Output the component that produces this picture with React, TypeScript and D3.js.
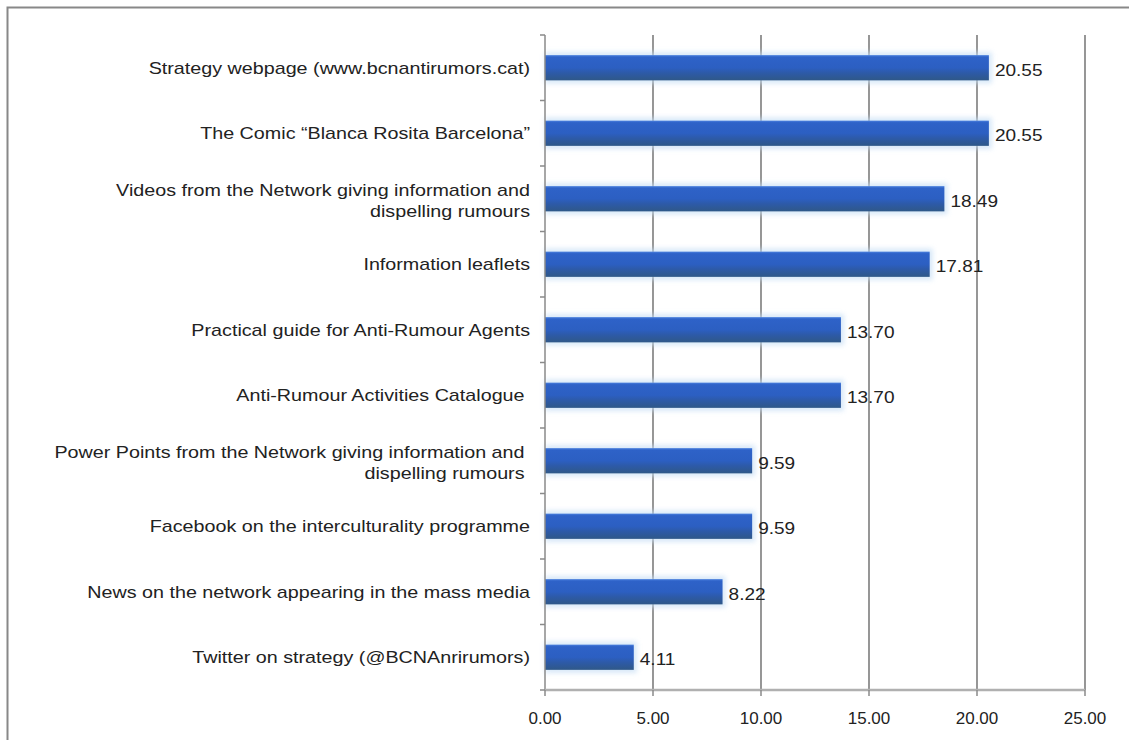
import React from "react";
import * as d3 from "d3";

const categories: string[][] = [
  ["Strategy webpage (www.bcnantirumors.cat)"],
  ["The Comic \u201cBlanca Rosita Barcelona\u201d"],
  ["Videos from the Network giving information and", "dispelling rumours"],
  ["Information leaflets"],
  ["Practical guide for Anti-Rumour Agents"],
  ["Anti-Rumour Activities Catalogue "],
  ["Power Points from the Network giving information and ", "dispelling rumours "],
  ["Facebook on the interculturality programme"],
  ["News on the network appearing in the mass media"],
  ["Twitter on strategy (@BCNAnrirumors)"],
];
const values: number[] = [20.55, 20.55, 18.49, 17.81, 13.7, 13.7, 9.59, 9.59, 8.22, 4.11];
const xTicks: number[] = [0, 5, 10, 15, 20, 25];

const W = 1129;
const H = 740;
const left = 545;
const right = 1085;
const top = 35;
const bottom = 690;
const FONT = "'Liberation Sans', Arial, sans-serif";

export default function App() {
  const x = d3.scaleLinear().domain([0, 25]).range([left, right]);
  const idx = categories.map((_, i) => String(i));
  const y = d3.scaleBand().domain(idx).range([top, bottom]).paddingInner(0.615).paddingOuter(0.3075);
  const step = y.step();
  const bw = y.bandwidth();

  return (
    <svg width={W} height={H} style={{ position: "absolute", left: 0, top: 0, background: "#fff" }}>
      <defs>
        <linearGradient id="barGrad" x1="0" y1="0" x2="0" y2="1">
          <stop offset="0" stopColor="#4a80de" />
          <stop offset="0.08" stopColor="#2e62c8" />
          <stop offset="0.5" stopColor="#2c5fc2" />
          <stop offset="0.7" stopColor="#2d5aa8" />
          <stop offset="1" stopColor="#2f5888" />
        </linearGradient>
        <filter id="glow" x="-10%" y="-50%" width="120%" height="200%">
          <feGaussianBlur stdDeviation="2.5" />
        </filter>
      </defs>
      <rect x={7.5} y={7.5} width={W + 10} height={H + 10} fill="#fff" stroke="#888" strokeWidth={2} />

      {/* gridlines */}
      {xTicks.slice(1).map((t) => (
        <line key={t} x1={x(t)} x2={x(t)} y1={top} y2={bottom} stroke="#6a6a6a" strokeWidth={1.4} />
      ))}

      {/* bars */}
      {values.map((v, i) => {
        const yy = y(String(i))!;
        return (
          <g key={i}>
            <rect x={x(0)} y={yy - 3} width={x(v) - x(0) + 3} height={bw + 6} fill="#c6def5" opacity={0.7} filter="url(#glow)" />
            <rect x={x(0)} y={yy} width={x(v) - x(0)} height={bw} fill="url(#barGrad)" />
          </g>
        );
      })}

      {/* left axis */}
      <line x1={left} x2={left} y1={top} y2={bottom} stroke="#8a8a8a" strokeWidth={1.5} />
      {d3.range(categories.length + 1).map((i) => (
        <line key={i} x1={left - 5} x2={left} y1={top + i * step} y2={top + i * step} stroke="#8a8a8a" strokeWidth={1.5} />
      ))}

      {/* bottom axis */}
      <line x1={left} x2={right} y1={bottom} y2={bottom} stroke="#b0b0b0" strokeWidth={2.5} />
      {xTicks.map((t) => (
        <g key={t}>
          <line x1={x(t)} x2={x(t)} y1={bottom} y2={bottom + 6} stroke="#8a8a8a" strokeWidth={1.5} />
          <text x={x(t)} y={bottom + 34} textAnchor="middle" fontFamily={FONT} fontSize={17} fill="#222">
            {d3.format(".2f")(t)}
          </text>
        </g>
      ))}

      {/* category labels */}
      {categories.map((lines, i) => {
        const cy = y(String(i))! + bw / 2;
        const lh = 21;
        const y0 = cy - ((lines.length - 1) * lh) / 2 + 6 + (lines.length > 1 ? 2 : 0);
        return (
          <g key={i} transform={`translate(530,0) scale(1.16,1)`}>
            <text textAnchor="end" fontFamily={FONT} fontSize={17} fill="#222" style={{ whiteSpace: "pre" }}>
              {lines.map((l, j) => (
                <tspan key={j} x={0} y={y0 + j * lh}>
                  {l}
                </tspan>
              ))}
            </text>
          </g>
        );
      })}

      {/* value labels */}
      {values.map((v, i) => (
        <g key={i} transform={`translate(${x(v) + 6},${y(String(i))! + bw / 2 + 8}) scale(1.12,1)`}>
          <text x={0} y={0} fontFamily={FONT} fontSize={17} fill="#222">
            {d3.format(".2f")(v)}
          </text>
        </g>
      ))}
    </svg>
  );
}
